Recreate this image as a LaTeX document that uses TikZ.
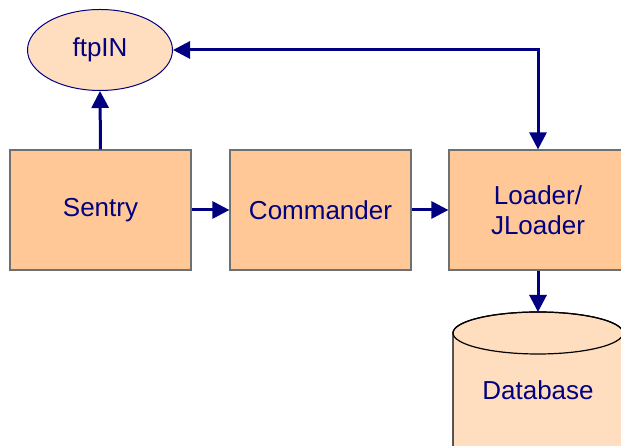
\documentclass[tikz,border=0pt]{standalone}
\usepackage{fontspec}
\setmainfont{Liberation Sans}
\usetikzlibrary{arrows.meta,positioning,calc,shapes.geometric}
\definecolor{navyink}{HTML}{000080}
\definecolor{boxfill}{HTML}{FFC896}
\definecolor{lightfill}{HTML}{FFDEC0}
\definecolor{boxline}{HTML}{707070}

\begin{document}
\begin{tikzpicture}[x=1pt,y=1pt,
  every node/.style={font=\fontsize{26}{30}\selectfont,text=navyink},
  >={Triangle[length=17pt,width=17pt]},
  blk/.style={draw=boxline,line width=1.2pt,fill=boxfill,minimum width=181pt,
    minimum height=120pt,align=center,inner sep=0pt},
  flow/.style={draw=navyink,line width=3pt}]
 \useasboundingbox (0,0) rectangle (621,446);
 \clip (0,0) rectangle (621,446);
 \node[ellipse,draw=navyink,line width=1pt,fill=lightfill,minimum width=145pt,
   minimum height=81pt,inner sep=0pt] (ftp) at (100,396) {ftpIN};
 \node[blk] (sentry) at (100.5,236) {Sentry};
 \node[blk] (cmd) at (320.5,236) {Commander};
 \node[blk,minimum width=178pt] (load) at (538,236) {Loader/\\JLoader};
 % database drum
 \filldraw[fill=lightfill,draw=black,line width=1.2pt] (453,113) -- (453,-10)
   arc[start angle=180,end angle=360,x radius=85,y radius=21] -- (623,113)
   arc[start angle=0,end angle=180,x radius=85,y radius=21] -- cycle;
 \draw[line width=1.2pt] (538,113) ellipse [x radius=85,y radius=21];
 \coordinate (dbtop) at (538,134);
 \node (db) at (538,56) {Database};
 % arrows
 \draw[flow,->] (sentry.north) -- (ftp.south);
 \draw[flow,->] (sentry) -- (cmd);
 \draw[flow,->] (cmd) -- (load);
 \draw[flow,<->] (ftp.east) -| (load.north);
 \draw[flow,->] (load.south) -- (dbtop);
\end{tikzpicture}
\end{document}
